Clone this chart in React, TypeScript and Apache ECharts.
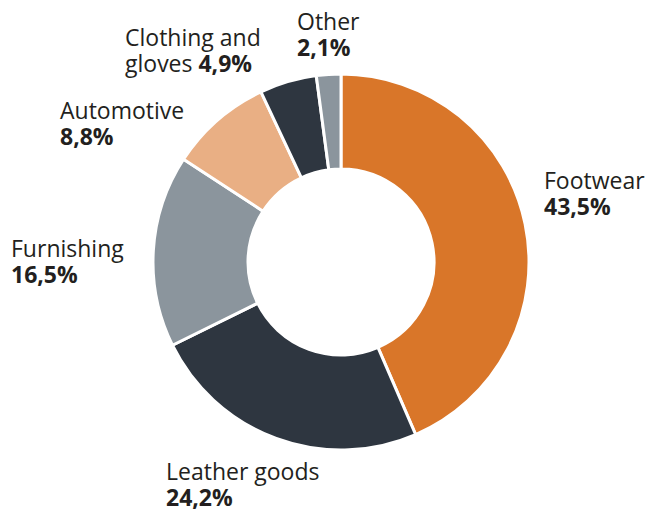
import React, { useEffect, useRef } from "react";
import * as echarts from "echarts";

const categories = ["Footwear", "Leather goods", "Furnishing", "Automotive", "Clothing and\ngloves", "Other"];
const shares = [43.5, 24.2, 16.5, 8.8, 4.9, 2.1];
const colors = ["#D97629", "#2E3640", "#8B959D", "#E9AF84", "#2E3640", "#8B959D"];

// label anchor (left x, vertical middle y) for each category
const labelAnchors: [number, number][] = [
  [544, 193],
  [166, 484],
  [11, 261],
  [60, 123],
  [125, 50],
  [297, 34],
];

const fmt = (v: number) => v.toFixed(1).replace(".", ",") + "%";

export default function App() {
  const ref = useRef<HTMLDivElement>(null);
  useEffect(() => {
    if (!ref.current) return;
    const chart = echarts.init(ref.current, undefined, { renderer: "svg" });
    chart.setOption({
      animation: false,
      backgroundColor: "#ffffff",
      series: [
        {
          type: "pie",
          center: [341, 262],
          radius: [93, 188],
          startAngle: 90,
          clockwise: true,
          avoidLabelOverlap: false,
          itemStyle: { borderColor: "#ffffff", borderWidth: 3 },
          emphasis: { disabled: true },
          data: categories.map((name, i) => ({
            name,
            value: shares[i],
            itemStyle: { color: colors[i] },
          })),
          label: {
            show: true,
            position: "outside",
            fontFamily: "Open Sans",
            fontSize: 23,
            lineHeight: 26,
            color: "#231F20",
            formatter: (p: any) => {
              const sep = p.name.includes("\n") ? " " : "\n";
              return `${p.name}${sep}{b|${fmt(p.value)}}`;
            },
            rich: {
              b: {
                fontFamily: "Open Sans",
                fontSize: 23,
                lineHeight: 26,
                fontWeight: "bold",
                color: "#231F20",
              },
            },
          },
          labelLine: { show: false },
          labelLayout: (p: any) => {
            const a = labelAnchors[p.dataIndex];
            return { x: a[0], y: a[1], align: "left", verticalAlign: "middle", hideOverlap: false };
          },
        },
      ],
    });
    return () => chart.dispose();
  }, []);
  return (
    <div
      ref={ref}
      style={{ position: "fixed", left: 0, top: 0, width: 660, height: 512 }}
    />
  );
}
